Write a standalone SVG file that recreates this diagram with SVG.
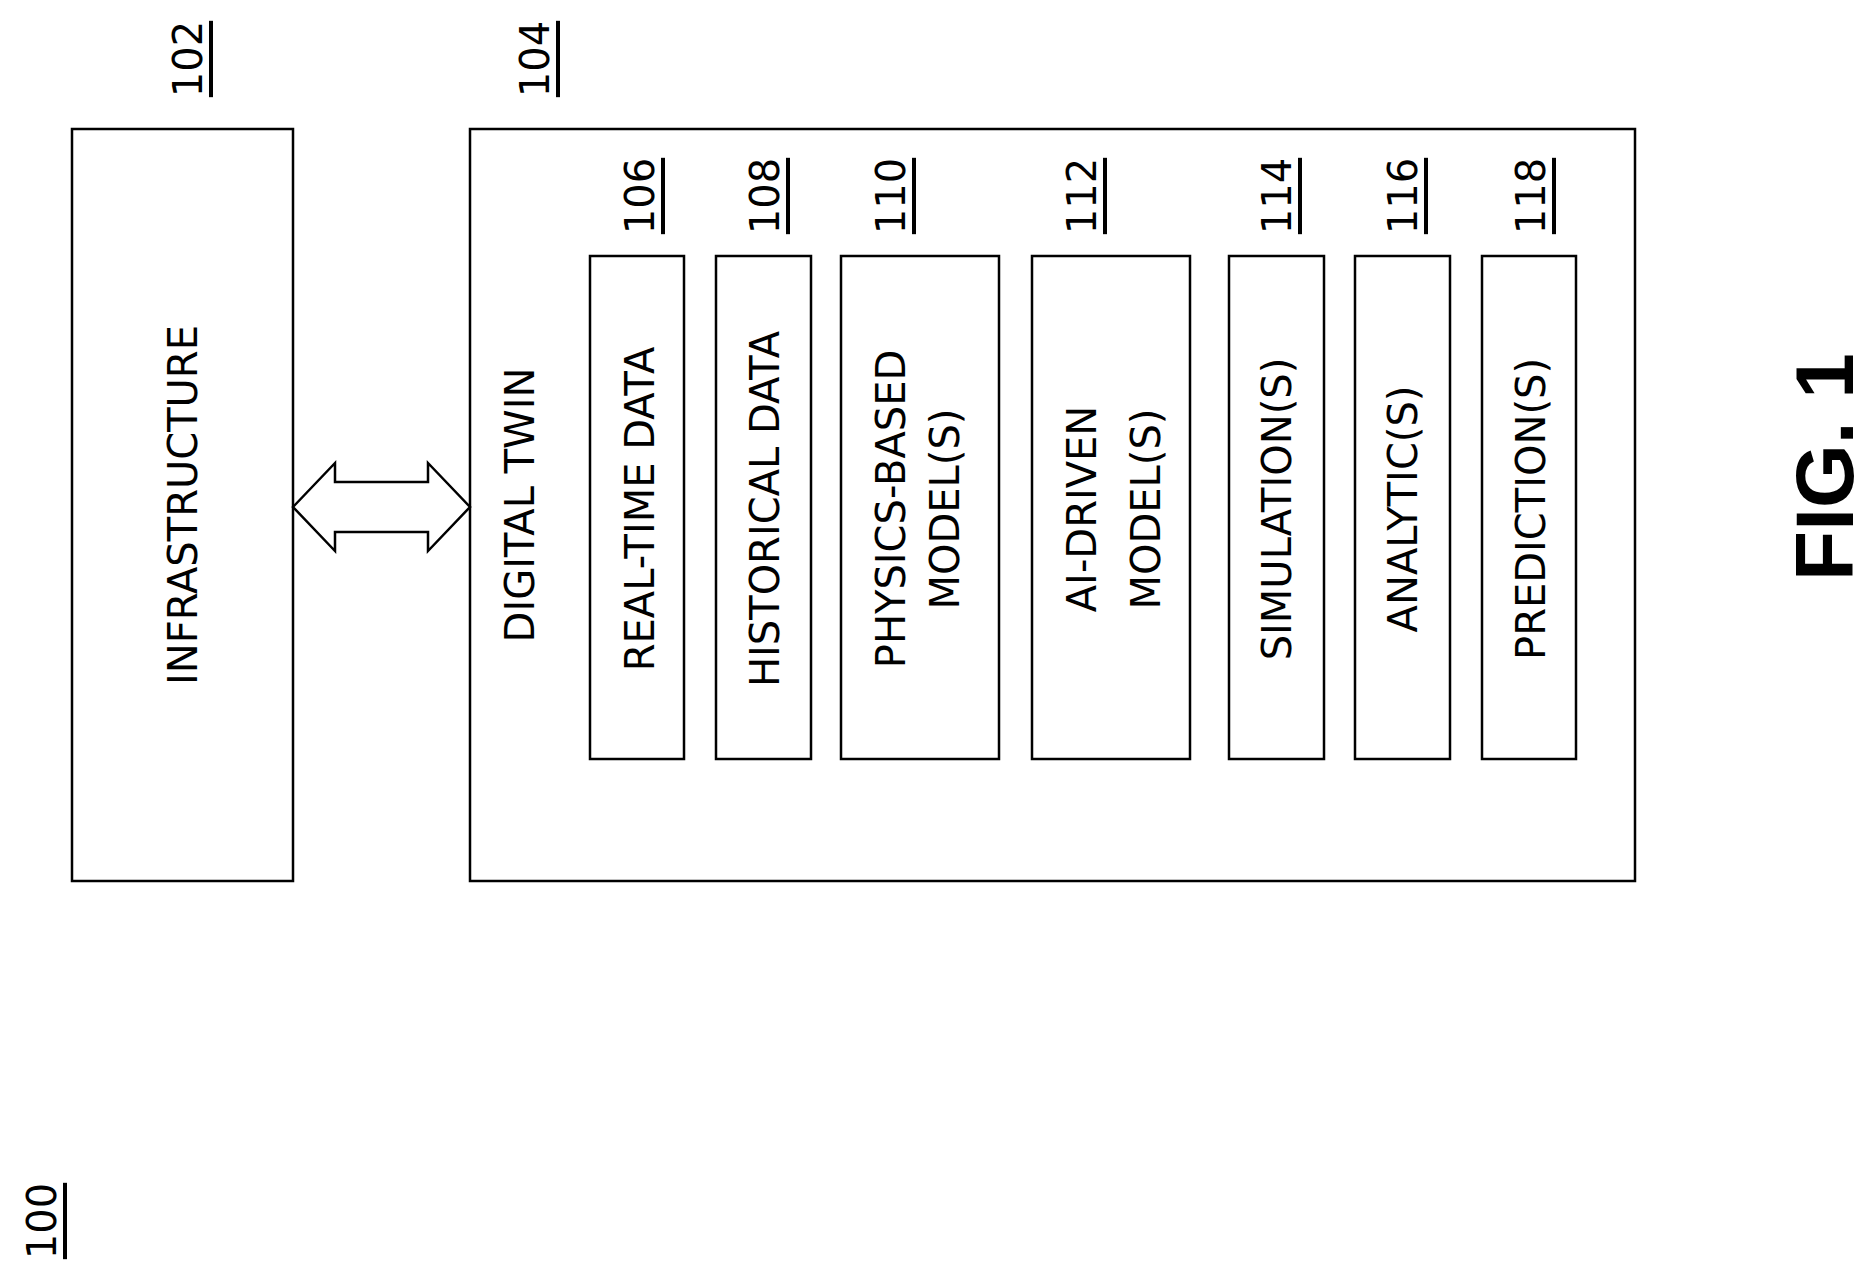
<svg xmlns="http://www.w3.org/2000/svg" width="1875" height="1280" viewBox="0 0 1875 1280">
<style>
rect{fill:#fff;stroke:#000;stroke-width:2.5}
text{font-family:"DejaVu Sans","Open Sans",sans-serif;font-size:40px;fill:#000;text-anchor:middle;dominant-baseline:central}
.n{text-decoration:underline}
</style>
<rect x="0" y="0" width="1875" height="1280" style="stroke:none"/>
<g id="ref100"><text class="n" transform="translate(42,1221) rotate(-90)">100</text></g>
<g id="infrastructure">
<rect x="72" y="129" width="221" height="752"/>
<text transform="translate(183,505) rotate(-90)">INFRASTRUCTURE</text>
<text class="n" transform="translate(188,59) rotate(-90)">102</text>
</g>
<g id="digitaltwin">
<rect x="470" y="129" width="1165" height="752"/>
<text transform="translate(520,505) rotate(-90)">DIGITAL TWIN</text>
<text class="n" transform="translate(535,59) rotate(-90)">104</text>
</g>
<g id="n106"><rect x="590" y="256" width="94" height="503"/><text transform="translate(640,509) rotate(-90)">REAL-TIME DATA</text><text class="n" transform="translate(640,196) rotate(-90)">106</text></g>
<g id="n108"><rect x="716" y="256" width="95" height="503"/><text transform="translate(765,509) rotate(-90)">HISTORICAL DATA</text><text class="n" transform="translate(765,196) rotate(-90)">108</text></g>
<g id="n110"><rect x="841" y="256" width="158" height="503"/><text transform="translate(891,509) rotate(-90)">PHYSICS-BASED</text><text transform="translate(945,509) rotate(-90)">MODEL(S)</text><text class="n" transform="translate(891,196) rotate(-90)">110</text></g>
<g id="n112"><rect x="1032" y="256" width="158" height="503"/><text transform="translate(1082,509) rotate(-90)">AI-DRIVEN</text><text transform="translate(1146,509) rotate(-90)">MODEL(S)</text><text class="n" transform="translate(1082,196) rotate(-90)">112</text></g>
<g id="n114"><rect x="1229" y="256" width="95" height="503"/><text transform="translate(1277,509) rotate(-90)">SIMULATION(S)</text><text class="n" transform="translate(1277,196) rotate(-90)">114</text></g>
<g id="n116"><rect x="1355" y="256" width="95" height="503"/><text transform="translate(1403,509) rotate(-90)">ANALYTIC(S)</text><text class="n" transform="translate(1403,196) rotate(-90)">116</text></g>
<g id="n118"><rect x="1482" y="256" width="94" height="503"/><text transform="translate(1531,509) rotate(-90)">PREDICTION(S)</text><text class="n" transform="translate(1531,196) rotate(-90)">118</text></g>
<g id="connectors">
<polygon points="293,507 335,463 335,482 428,482 428,463 470,507 428,551 428,532 335,532 335,551" fill="#fff" stroke="#000" stroke-width="2.5"/>
</g>
<g id="fig"><text transform="translate(1824,467) rotate(-90)" style="font-family:'Liberation Sans',Arial,sans-serif;font-weight:bold;font-size:82px">FIG. 1</text></g>
</svg>
